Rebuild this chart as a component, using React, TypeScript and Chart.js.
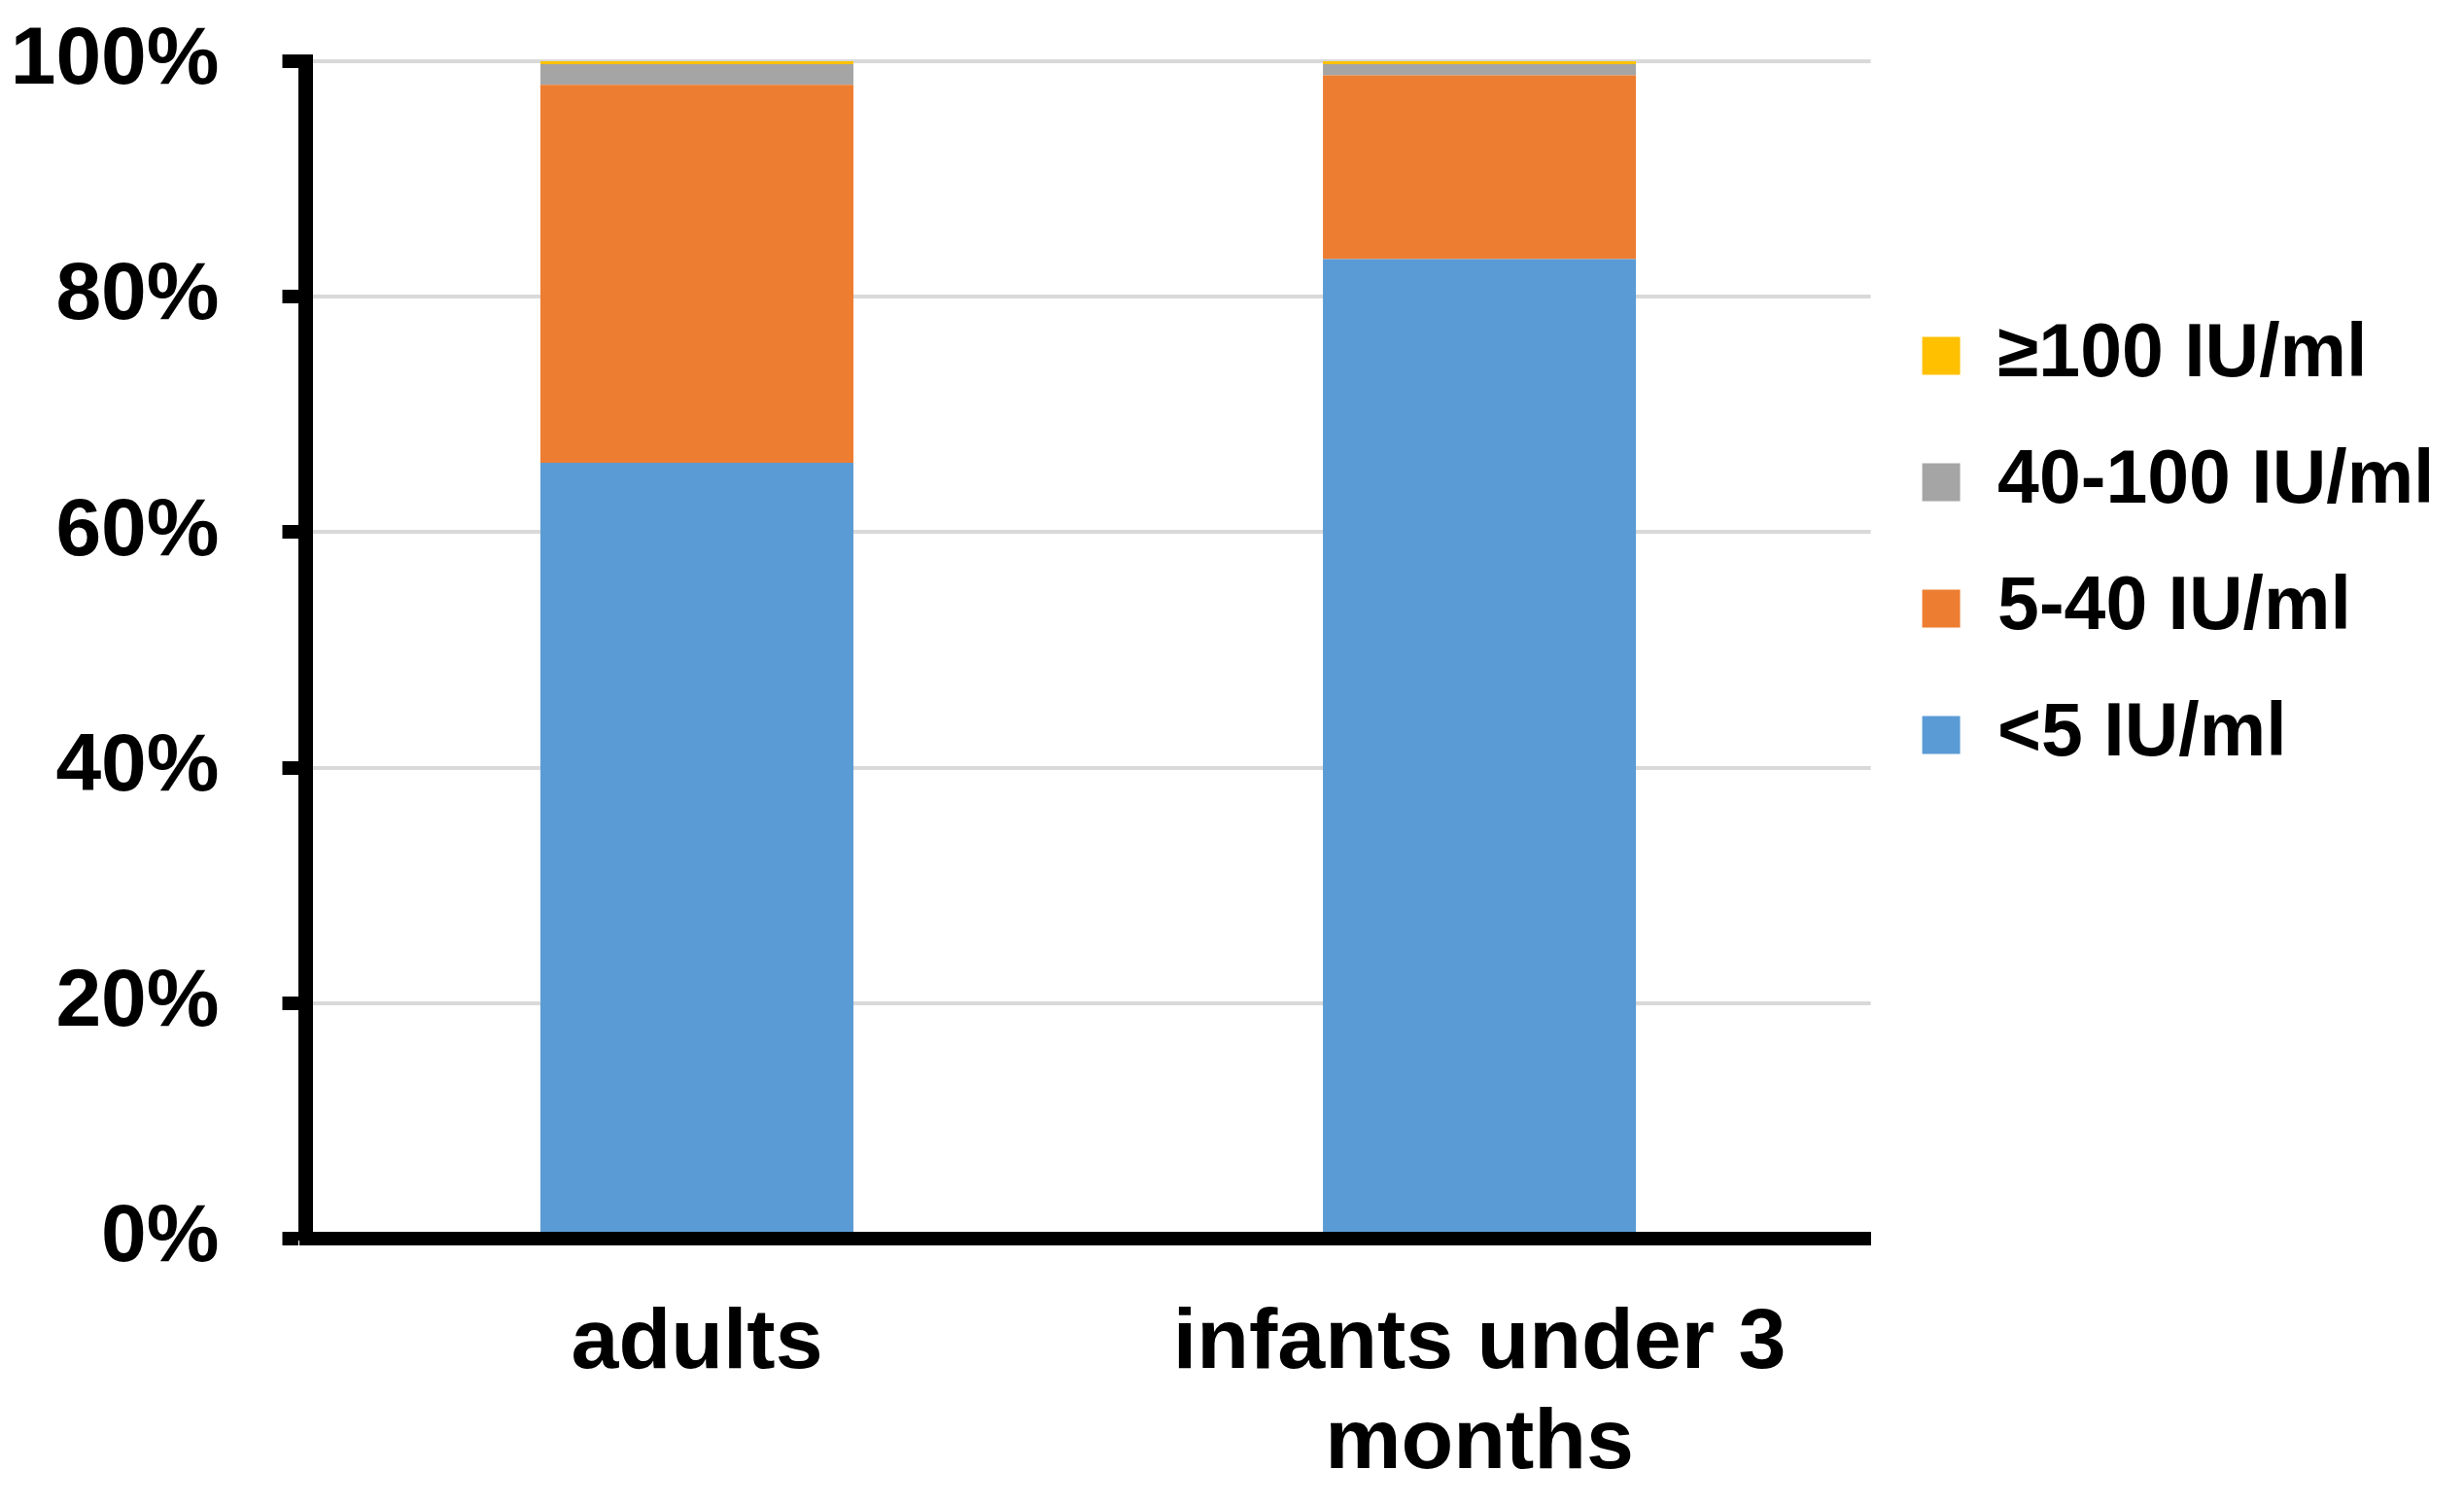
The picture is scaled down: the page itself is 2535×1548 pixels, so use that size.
import { useEffect, useRef } from "react";
import { Chart, registerables } from "chart.js";

Chart.register(...registerables);

const categories: (string | string[])[] = ["adults", ["infants under 3", "months"]];
const seriesNames = ["<5 IU/ml", "5-40 IU/ml", "40-100 IU/ml", "≥100 IU/ml"];
const seriesColors = ["#5B9BD5", "#ED7D31", "#A5A5A5", "#FFC000"];
const under5 = [65.9, 83.2];
const from5to40 = [32.1, 15.6];
const from40to100 = [1.75, 0.95];
const over100 = [0.25, 0.25];
const yTicks = [0, 20, 40, 60, 80, 100];

const FONT = "'Liberation Sans', Arial, Helvetica, sans-serif";

export default function App() {
  const canvasRef = useRef<HTMLCanvasElement>(null);
  const chartRef = useRef<Chart | null>(null);

  useEffect(() => {
    document.body.style.margin = "0";
    if (!canvasRef.current) return;

    if (chartRef.current) {
      chartRef.current.destroy();
    }

    const values = [under5, from5to40, from40to100, over100];

    chartRef.current = new Chart(canvasRef.current, {
      type: "bar",
      data: {
        labels: categories,
        datasets: seriesNames.map((name, i) => ({
          label: name,
          data: values[i],
          backgroundColor: seriesColors[i],
          borderWidth: 0,
          categoryPercentage: 1,
          barPercentage: 0.4,
        })),
      },
      options: {
        responsive: true,
        maintainAspectRatio: false,
        animation: false,
        layout: { padding: { top: 63, left: 10.5, right: 20.5, bottom: 0 } },
        plugins: {
          tooltip: { enabled: false },
          legend: {
            position: "right",
            align: "start",
            reverse: true,
            // empty title only pushes the legend items down
            title: { display: true, text: " ", padding: 98.5, font: { size: 12 } },
            labels: {
              boxWidth: 39,
              boxHeight: 39,
              padding: 53,
              color: "#000",
              font: { family: FONT, size: 77, weight: "bold" },
            },
          },
        },
        scales: {
          x: {
            stacked: true,
            grid: { display: false, drawTicks: false },
            border: { display: true, color: "#000", width: 14, z: 1 },
            ticks: {
              color: "#000",
              padding: 57,
              maxRotation: 0,
              autoSkip: false,
              font: { family: FONT, size: 88, weight: "bold", lineHeight: 1.17 },
            },
            afterFit: (scale) => {
              scale.height = 274;
            },
          },
          y: {
            stacked: true,
            min: yTicks[0],
            max: yTicks[yTicks.length - 1],
            grid: {
              color: "#d9d9d9",
              lineWidth: 4,
              tickColor: "#000",
              tickWidth: 14,
              tickLength: 24,
            },
            border: { display: true, color: "#000", width: 15, z: 1 },
            ticks: {
              stepSize: 20,
              color: "#000",
              padding: 65,
              font: { family: FONT, size: 84, weight: "bold" },
              callback: (v) => `${v}%`,
            },
            afterFit: (scale) => {
              scale.width = 304;
              scale.paddingTop = 50;
              scale.paddingBottom = 50;
            },
          },
        },
      },
    });

    return () => {
      if (chartRef.current) {
        chartRef.current.destroy();
        chartRef.current = null;
      }
    };
  }, []);

  return (
    <div style={{ width: "2535px", height: "1548px", position: "relative" }}>
      <canvas ref={canvasRef} />
    </div>
  );
}
